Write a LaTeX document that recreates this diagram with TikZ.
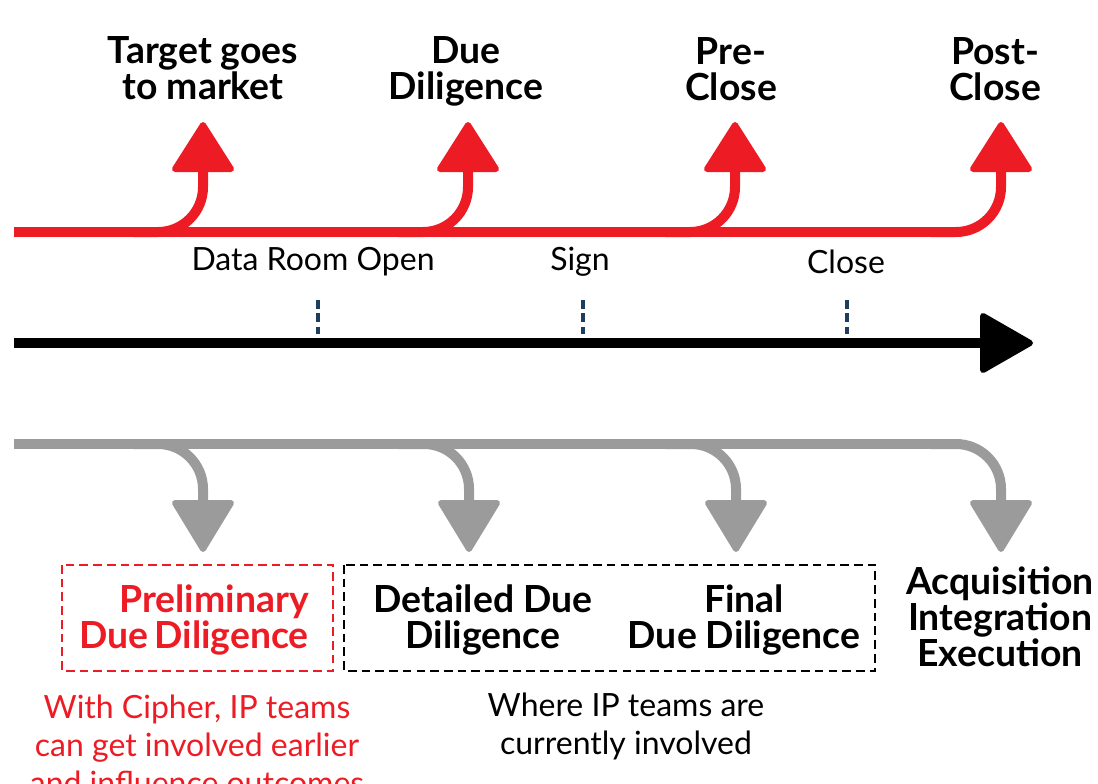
\documentclass[tikz,border=0pt]{standalone}
\usepackage{fontspec}
\setmainfont{Lato}
\usetikzlibrary{calc}
\definecolor{cred}{HTML}{ED1C24}
\definecolor{cgray}{HTML}{9B9B9B}
\definecolor{ctick}{HTML}{1F3E5E}
\tikzset{
  flow/.style={line width=7.5pt, line cap=butt},
  redflow/.style={flow, draw=cred},
  grayflow/.style={flow, draw=cgray},
  tipshape/.style={line width=4.5pt, line join=round},
  uptip/.pic={\filldraw[tipshape] (-28,-3) -- (28,-3) -- (0,-47) -- cycle;},
  downtip/.pic={\filldraw[tipshape] (-28,3) -- (28,3) -- (0,49) -- cycle;},
  righttip/.pic={\filldraw[tipshape] (3,-27) -- (3,27) -- (50,0) -- cycle;},
  tick/.style={draw=ctick, line width=2.3pt, dash pattern=on 6.5pt off 3.5pt},
  phase/.style={align=center, inner sep=0pt, font=\bfseries\fontsize{28}{27}\selectfont},
  stage/.style={align=center, inner sep=0pt, font=\bfseries\fontsize{28}{27}\selectfont},
  milestone/.style={inner sep=0pt, font=\fontsize{24}{28}\selectfont},
  note/.style={align=center, inner sep=0pt, font=\fontsize{24}{28.5}\selectfont},
  stagebox/.style={line width=2.2pt, dash pattern=on 6.5pt off 3.8pt},
}
\begin{document}
\begin{tikzpicture}[x=0.75pt,y=-0.75pt]
\useasboundingbox (0,0) rectangle (1098,783);

% --- upper (red) track with its four phases ---
\coordinate (rs) at (14,232);
\coordinate (r1) at (203,172);
\coordinate (r2) at (468,172);
\coordinate (r3) at (735,172);
\coordinate (r4) at (1001,172);
\draw[redflow] (rs) -- (936,232);
\foreach \p in {r1,r2,r3,r4}{
  \draw[redflow, rounded corners=33.75pt] ($(\p |- rs)+(-70,0)$) -| (\p);
  \pic[cred] at (\p) {uptip};
}

\node[phase] (ph1) at (203,68) {Target goes\\to market};
\node[phase] (ph2) at (466,71) {Due\\Diligence};
\node[phase] (ph3) at (731,69) {Pre-\\Close};
\node[phase] (ph4) at (995,69) {Post-\\Close};

% --- milestone labels and the time axis ---
\node[milestone] (m1) at (313,262) {Data Room Open};
\node[milestone] (m2) at (580,262) {Sign};
\node[milestone] (m3) at (846,262) {Close};

\coordinate (as) at (14,343);
\coordinate (ae) at (980,343);
\draw[line width=8pt] (as) -- (ae);
\pic[black] at (ae) {righttip};

\foreach \x in {318,583,847}
  \draw[tick] (\x,300) -- (\x,334);

% --- lower (grey) track feeding the work stages ---
\coordinate (gs) at (14,444);
\coordinate (g1) at (203,500);
\coordinate (g2) at (469,500);
\coordinate (g3) at (736,500);
\coordinate (g4) at (1001,500);
\draw[grayflow] (gs) -- (936,444);
\foreach \p in {g1,g2,g3,g4}{
  \draw[grayflow, rounded corners=33.75pt] ($(\p |- gs)+(-70,0)$) -| (\p);
  \pic[cgray] at (\p) {downtip};
}

% --- work stages ---
\draw[stagebox, draw=cred] (62,565) rectangle (333,671);
\draw[stagebox, draw=black] (344,565) rectangle (875,671);

\node[stage, text=cred, align=right, anchor=east] (s1) at (309,620) {Preliminary\\Due\,Diligence};
\node[stage] (s2) at (483,620) {Detailed Due\\Diligence};
\node[stage] (s3) at (744,620) {Final\\Due Diligence};
\node[stage] (s4) at (1000,617) {Acquisition\\Integration\\Execution};

\node[note, text=cred] (n1) at (197,745) {With Cipher, IP teams\\can get involved earlier\\and influence outcomes};
\node[note] (n2) at (626,726) {Where IP teams are\\currently involved};
\end{tikzpicture}
\end{document}
